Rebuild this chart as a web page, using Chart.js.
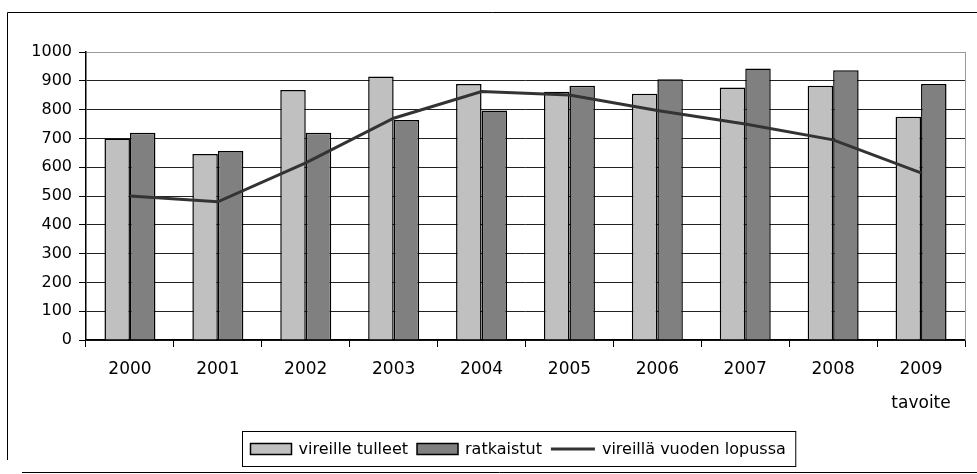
<!DOCTYPE html>
<html>
<head>
<meta charset="utf-8">
<script src="https://cdn.jsdelivr.net/npm/chart.js@4/dist/chart.umd.min.js"></script>
<style>
  body { margin: 0; background: #fff; }
  #wrap { width: 977px; height: 474px; }
</style>
</head>
<body>
<div id="wrap"><canvas id="myChart"></canvas></div>
<script>
var years = ["2000", "2001", "2002", "2003", "2004", "2005", "2006", "2007", "2008", ["2009", "tavoite"]];
var incoming = [700, 646, 868, 915, 889, 862, 855, 877, 883, 775];
var resolved = [720, 656, 720, 764, 797, 883, 905, 943, 937, 889];
var pending = [500, 480, 615, 770, 863, 851, 797, 750, 695, 580];
var seriesNames = ["vireille tulleet", "ratkaistut", "vireillä vuoden lopussa"];
var yTicks = [0, 100, 200, 300, 400, 500, 600, 700, 800, 900, 1000];

var fontFamily = "'DejaVu Sans', sans-serif";

// frame, right plot border and the boxed legend
var decorations = {
    id: "decorations",
    afterDraw: function(chart) {
        var ctx = chart.ctx;
        var area = chart.chartArea;
        ctx.save();
        // outer frame
        ctx.strokeStyle = "#000";
        ctx.lineWidth = 1;
        ctx.beginPath();
        ctx.moveTo(7.5, 460); ctx.lineTo(7.5, 12.5); ctx.lineTo(977, 12.5);
        ctx.moveTo(22, 472.5); ctx.lineTo(977, 472.5);
        ctx.stroke();
        // grey border on the right of the plot
        ctx.strokeStyle = "#999";
        ctx.beginPath();
        ctx.moveTo(Math.round(area.right) + 0.5, area.top);
        ctx.lineTo(Math.round(area.right) + 0.5, area.bottom);
        ctx.stroke();

        // legend
        ctx.font = "16px " + fontFamily;
        ctx.textBaseline = "middle";
        var sets = chart.data.datasets;
        var swatchW = 41, lineW = 44, gap = 7, itemGap = 9;
        var total = 0;
        sets.forEach(function(ds, i) {
            total += (ds.type === "line" ? lineW : swatchW) + gap + ctx.measureText(ds.label).width;
            if (i < sets.length - 1) total += itemGap;
        });
        var boxLeft = 242.5, boxTop = 431.5, boxH = 35;
        var boxW = total + 8 + 10;
        var cy = boxTop + boxH / 2;
        ctx.fillStyle = "#fff";
        ctx.fillRect(boxLeft, boxTop, boxW, boxH);
        ctx.strokeStyle = "#000";
        ctx.lineWidth = 1;
        ctx.strokeRect(boxLeft, boxTop, boxW, boxH);
        var x = boxLeft + 8;
        sets.forEach(function(ds) {
            if (ds.type === "line") {
                ctx.strokeStyle = ds.borderColor;
                ctx.lineWidth = 3;
                ctx.beginPath();
                ctx.moveTo(x, cy); ctx.lineTo(x + lineW, cy);
                ctx.stroke();
                x += lineW;
            } else {
                ctx.fillStyle = ds.backgroundColor;
                ctx.fillRect(x, cy - 5.5, swatchW, 11);
                ctx.strokeStyle = "#000";
                ctx.lineWidth = 1.5;
                ctx.strokeRect(x, cy - 5.5, swatchW, 11);
                x += swatchW;
            }
            x += gap;
            ctx.fillStyle = "#000";
            ctx.fillText(ds.label, x, cy + 1);
            x += ctx.measureText(ds.label).width + itemGap;
        });
        ctx.restore();
    }
};

new Chart("myChart", {
    data: {
        labels: years,
        datasets: [{
            type: "bar",
            label: seriesNames[0],
            data: incoming,
            backgroundColor: "#c0c0c0",
            borderColor: "#000",
            borderWidth: 1.5,
            barPercentage: 1,
            categoryPercentage: 0.58,
            order: 1
        }, {
            type: "bar",
            label: seriesNames[1],
            data: resolved,
            backgroundColor: "#808080",
            borderColor: "#000",
            borderWidth: 1.5,
            barPercentage: 1,
            categoryPercentage: 0.58,
            order: 1
        }, {
            type: "line",
            label: seriesNames[2],
            data: pending,
            borderColor: "#333333",
            borderWidth: 3,
            pointRadius: 0,
            tension: 0,
            order: 0
        }]
    },
    options: {
        responsive: true,
        maintainAspectRatio: false,
        animation: false,
        layout: { padding: { left: 0, right: 12, top: 52, bottom: 54 } },
        plugins: {
            legend: { display: false },
            tooltip: { enabled: false }
        },
        scales: {
            x: {
                offset: true,
                grid: {
                    offset: true,
                    drawOnChartArea: false,
                    drawTicks: true,
                    tickLength: 7,
                    tickColor: "#000"
                },
                border: { color: "#000", width: 1.5 },
                ticks: {
                    color: "#000",
                    padding: 6,
                    maxRotation: 0,
                    autoSkip: false,
                    font: { family: fontFamily, size: 17, lineHeight: 2 }
                },
                afterFit: function(s) { s.height = 80; }
            },
            y: {
                min: 0,
                max: 1000,
                afterBuildTicks: function(s) {
                    s.ticks = yTicks.map(function(v) { return { value: v }; });
                },
                grid: {
                    color: function(c) { return c.tick && c.tick.value === 1000 ? "#999" : "#222"; },
                    lineWidth: 1,
                    tickLength: 7,
                    tickColor: "#000"
                },
                border: { color: "#000", width: 1.5 },
                ticks: {
                    color: "#000",
                    padding: 7,
                    font: { family: fontFamily, size: 16 },
                    callback: function(v) { return String(v); }
                },
                afterFit: function(s) { s.width = 86; }
            }
        }
    },
    plugins: [decorations]
});
</script>
</body>
</html>
